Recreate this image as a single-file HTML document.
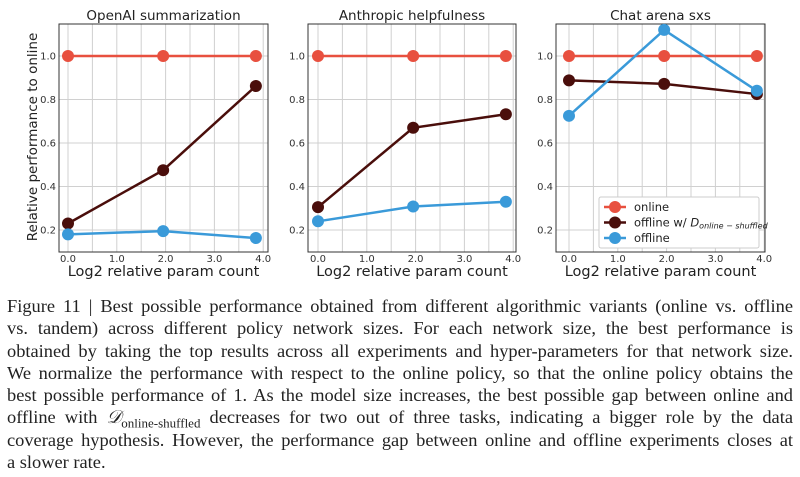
<!DOCTYPE html>
<html><head><meta charset="utf-8"><style>
body{margin:0;background:#fff;width:800px;height:477px;overflow:hidden;position:relative}
svg{position:absolute;left:0;top:0}
.cap{position:absolute;left:7px;width:786px;font-family:"Liberation Serif",serif;font-size:18.4px;color:#222;line-height:22.3px}
.cap div{text-align:justify;text-align-last:justify;white-space:nowrap;height:22.3px}
.cap div.last{text-align-last:left}
</style></head><body>
<svg id="chart" width="800" height="285"></svg>
<div class="cap" style="top:295px">
<div>Figure 11 | Best possible performance obtained from different algorithmic variants (online vs. offline</div>
<div>vs. tandem) across different policy network sizes. For each network size, the best performance is</div>
<div>obtained by taking the top results across all experiments and hyper-parameters for that network size.</div>
<div>We normalize the performance with respect to the online policy, so that the online policy obtains the</div>
<div>best possible performance of 1. As the model size increases, the best possible gap between online and</div>
<div>offline with <i>𝒟</i><sub style="font-size:13px;line-height:0">online-shuffled</sub> decreases for two out of three tasks, indicating a bigger role by the data</div>
<div>coverage hypothesis. However, the performance gap between online and offline experiments closes at</div>
<div class="last">a slower rate.</div>
</div>
<script>
const titles=["OpenAI summarization","Anthropic helpfulness","Chat arena sxs"];
const xVals=[0,1.95,3.85];
const onlineVals=[[1,1,1],[1,1,1],[1,1,1]];
const shuffledVals=[[0.23,0.475,0.862],[0.305,0.67,0.732],[0.888,0.872,0.825]];
const offlineVals=[[0.18,0.195,0.163],[0.24,0.308,0.33],[0.725,1.12,0.84]];
const xTicks=["0.0","1.0","2.0","3.0","4.0"];
const yTicks=[0.2,0.4,0.6,0.8,1.0];
const panelLeft=[59,308,556], panelRight=[268,516,765], x0px=[68,318,569];
const axTop=24,axBottom=252,ppu=48.8;
const NS="http://www.w3.org/2000/svg";
const svg=document.getElementById('chart');
function el(t,a,p){const e=document.createElementNS(NS,t);for(const k in a)e.setAttribute(k,a[k]);(p||svg).appendChild(e);return e;}
function yS(v){return 56+(1-v)*217.5;}
const colors=["#e8503f","#4a0e0b","#3a9ad9"];
for(let p=0;p<3;p++){
  const xS=v=>x0px[p]+v*ppu;
  const g=el('g',{});
  
  
  for(let v=-0.5;v<=4.01;v+=0.5){const x=xS(v);if(x>panelLeft[p]&&x<panelRight[p])el('line',{x1:x,x2:x,y1:axTop,y2:axBottom,stroke:'#d0d0d0','stroke-width':1},g);}
  yTicks.forEach(v=>{el('line',{x1:panelLeft[p],x2:panelRight[p],y1:yS(v),y2:yS(v),stroke:'#d0d0d0','stroke-width':1},g);
    const t=el('text',{x:panelLeft[p]-3,y:yS(v)+3.5,'text-anchor':'end','font-size':10,'font-family':'DejaVu Sans, sans-serif',fill:'#333'},g);t.textContent=v.toFixed(1);});
  xTicks.forEach((s,i)=>{const t=el('text',{x:xS(i),y:axBottom+10,'text-anchor':'middle','font-size':10,'font-family':'DejaVu Sans, sans-serif',fill:'#333'},g);t.textContent=s;});
  el('rect',{x:panelLeft[p],y:axTop,width:panelRight[p]-panelLeft[p],height:axBottom-axTop,fill:'none',stroke:'#333','stroke-width':1},g);
  const tt=el('text',{x:(panelLeft[p]+panelRight[p])/2,y:20,'text-anchor':'middle','font-size':13.5,'font-family':'DejaVu Sans, sans-serif',fill:'#222'},g);tt.textContent=titles[p];
  
  
  const xl=el('text',{x:(panelLeft[p]+panelRight[p])/2,y:276,'text-anchor':'middle','font-size':14.5,'font-family':'DejaVu Sans, sans-serif',fill:'#222'},g);xl.textContent='Log2 relative param count';
  
  
  [onlineVals,shuffledVals,offlineVals].forEach((series,si)=>{
    const vals=series[p];
    el('polyline',{points:vals.map((v,i)=>xS(xVals[i])+','+yS(v)).join(' '),fill:'none',stroke:colors[si],'stroke-width':2.5},g);
    vals.forEach((v,i)=>{const c=el('circle',{cx:xS(xVals[i]),cy:yS(v),r:6,fill:colors[si]},g);
      
      });
  });
}
const yl=el('text',{transform:'translate(37,137) rotate(-90)','text-anchor':'middle','font-size':13.5,'font-family':'DejaVu Sans, sans-serif',fill:'#222'});
yl.textContent='Relative performance to online';


const lg=el('g',{});


el('rect',{x:599,y:197,width:160,height:51,fill:'#fff',stroke:'#ccc','stroke-width':1,rx:2},lg);
const labels=['online','offline w/ ','offline'];
labels.forEach((s,i)=>{const y=207+i*15.5;
  el('line',{x1:604,x2:626,y1:y,y2:y,stroke:colors[i],'stroke-width':2.5},lg);
  el('circle',{cx:615,cy:y,r:6,fill:colors[i]},lg);
  const t=el('text',{x:634,y:y+4,'font-size':11.5,'font-family':'DejaVu Sans, sans-serif',fill:'#222'},lg);
  t.textContent=s;
  if(i===1){const d=el('tspan',{'font-style':'italic'},t);d.textContent='D';const sub=el('tspan',{'font-style':'italic','font-size':8,dy:2},t);sub.textContent='online − shuffled';}
});
</script>
</body></html>
